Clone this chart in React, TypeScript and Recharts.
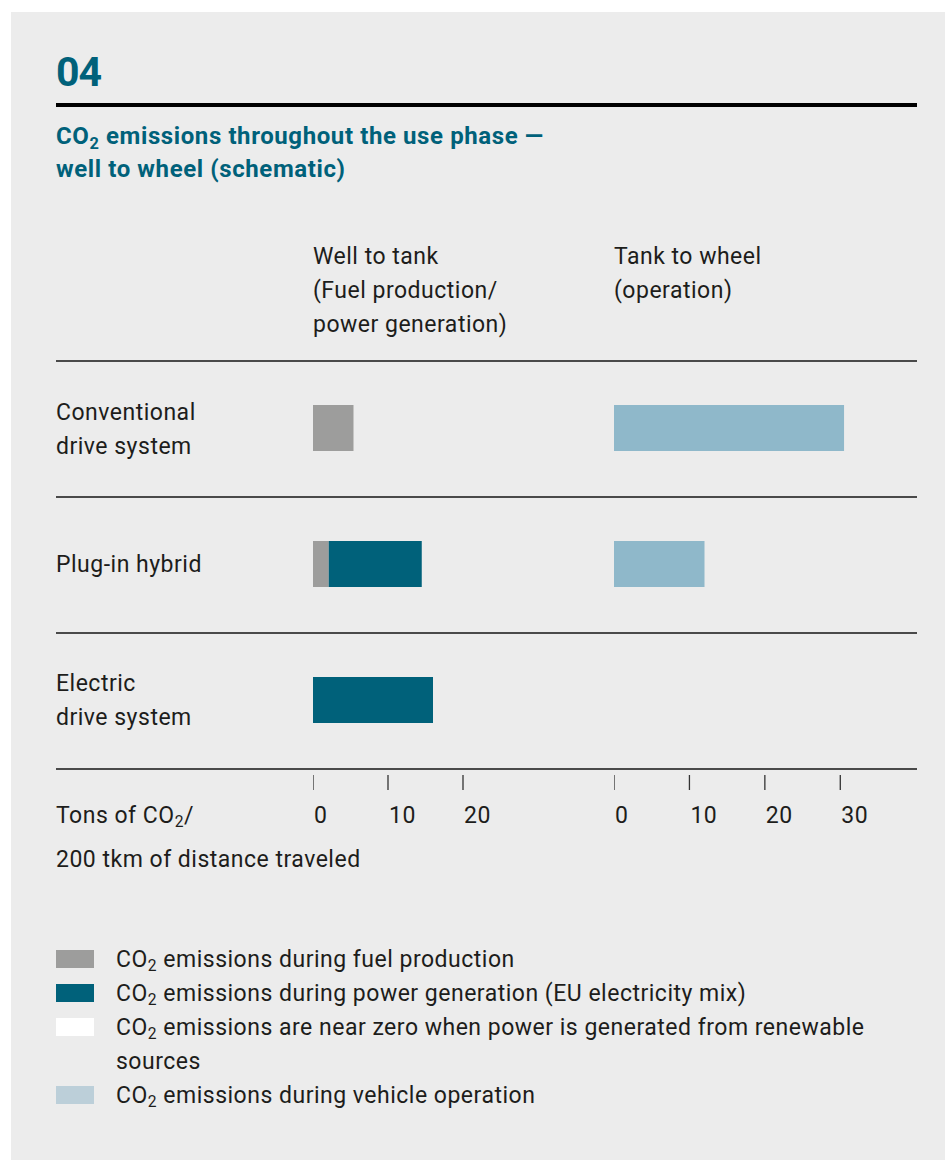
import React from 'react';
import { BarChart, Bar, XAxis, YAxis } from 'recharts';

const rows = ['Conventional drive system', 'Plug-in hybrid', 'Electric drive system'];
const fuelProduction = [5.4, 2.1, 0];
const powerGeneration = [0, 12.4, 16];
const vehicleOperation = [30.5, 12, 0];
const wellTicks = [0, 10, 20];
const tankTicks = [0, 10, 20, 30];

const wellData = rows.map((row, i) => ({ row, fuel: fuelProduction[i], power: powerGeneration[i] }));
const tankData = rows.map((row, i) => ({ row, operation: vehicleOperation[i] }));

const TEAL = '#00617a';
const GRAY = '#9d9d9c';
const LIGHT = '#8fb8ca';
const LEGEND_LIGHT = '#bccfd9';
const TEXT = '#1d1d1b';
const FONT = 'Roboto, "Noto Sans", sans-serif';

const Sub = ({ children }: { children: React.ReactNode }) => (
  <span style={{ fontSize: '0.68em', position: 'relative', top: '0.28em' }}>{children}</span>
);

const Tick = (props: any) => {
  const { x, y, payload } = props;
  return (
    <g>
      <line x1={x} x2={x} y1={y + 7} y2={y + 22} stroke="#333" strokeWidth={1.3} />
      <text x={x + 1} y={y + 47} textAnchor="start" dominantBaseline="central" fontSize={23} letterSpacing={0.5} fill={TEXT} fontFamily={FONT}>
        {payload.value}
      </text>
    </g>
  );
};

const T = ({ left, top, children, style }: any) => (
  <div style={{ position: 'absolute', left, top, fontFamily: FONT, fontSize: 23, letterSpacing: 0.5, lineHeight: '34px', color: TEXT, whiteSpace: 'nowrap', ...style }}>
    {children}
  </div>
);

const HLine = ({ top, height = 2, color = '#4a4a4a' }: any) => (
  <div style={{ position: 'absolute', left: 56, top, width: 861, height, background: color }} />
);

const Swatch = ({ top, color }: any) => (
  <div style={{ position: 'absolute', left: 56, top, width: 38, height: 18, background: color }} />
);

const SUBTITLE = { fontWeight: 700, color: TEAL, fontSize: 24, letterSpacing: 0.6 };

export default function App() {
  return (
    <div style={{ position: 'absolute', left: 0, top: 0, width: 945, height: 1160, background: '#ffffff', overflow: 'hidden' }}>
      <div style={{ position: 'absolute', left: 11, top: 12, width: 934, height: 1148, background: '#ececec' }} />
      <T left={56} top={52} style={{ fontSize: 41, lineHeight: '40px', fontWeight: 700, color: TEAL, letterSpacing: -1 }}>04</T>
      <HLine top={103} height={4} color="#000" />
      <T left={56} top={119} style={SUBTITLE}>
        CO<Sub>2</Sub> emissions throughout the use phase —
      </T>
      <T left={56} top={152} style={SUBTITLE}>well to wheel (schematic)</T>

      <T left={313} top={240}>Well to tank</T>
      <T left={313} top={274}>(Fuel production/</T>
      <T left={313} top={308}>power generation)</T>
      <T left={614} top={240}>Tank to wheel</T>
      <T left={614} top={274}>(operation)</T>

      <HLine top={360} />
      <HLine top={496} />
      <HLine top={632} />
      <HLine top={768} />

      <T left={56} top={396}>Conventional</T>
      <T left={56} top={430}>drive system</T>
      <T left={56} top={548}>Plug-in hybrid</T>
      <T left={56} top={667}>Electric</T>
      <T left={56} top={701}>drive system</T>

      <T left={56} top={799}>Tons of CO<Sub>2</Sub>/</T>
      <T left={56} top={843}>200 tkm of distance traveled</T>

      <div style={{ position: 'absolute', left: 313, top: 360 }}>
        <BarChart width={190} height={488} data={wellData} layout="vertical" margin={{ top: 0, right: 40, bottom: 0, left: 0 }} barSize={46}>
          <YAxis type="category" dataKey="row" hide />
          <XAxis type="number" domain={[0, 20]} ticks={wellTicks} height={80} axisLine={false} tickLine={false} tickSize={0} tickMargin={0} tick={<Tick />} interval={0} />
          <Bar dataKey="fuel" stackId="a" fill={GRAY} isAnimationActive={false} />
          <Bar dataKey="power" stackId="a" fill={TEAL} isAnimationActive={false} />
        </BarChart>
      </div>
      <div style={{ position: 'absolute', left: 614, top: 360 }}>
        <BarChart width={304} height={488} data={tankData} layout="vertical" margin={{ top: 0, right: 40, bottom: 0, left: 0 }} barSize={46}>
          <YAxis type="category" dataKey="row" hide />
          <XAxis type="number" domain={[0, 35]} ticks={tankTicks} height={80} axisLine={false} tickLine={false} tickSize={0} tickMargin={0} tick={<Tick />} interval={0} />
          <Bar dataKey="operation" fill={LIGHT} isAnimationActive={false} />
        </BarChart>
      </div>

      <Swatch top={950} color={GRAY} />
      <Swatch top={984} color={TEAL} />
      <Swatch top={1018} color="#ffffff" />
      <Swatch top={1086} color={LEGEND_LIGHT} />
      <T left={116} top={943}>CO<Sub>2</Sub> emissions during fuel production</T>
      <T left={116} top={977}>CO<Sub>2</Sub> emissions during power generation (EU electricity mix)</T>
      <T left={116} top={1011}>CO<Sub>2</Sub> emissions are near zero when power is generated from renewable</T>
      <T left={116} top={1045}>sources</T>
      <T left={116} top={1079}>CO<Sub>2</Sub> emissions during vehicle operation</T>
    </div>
  );
}
